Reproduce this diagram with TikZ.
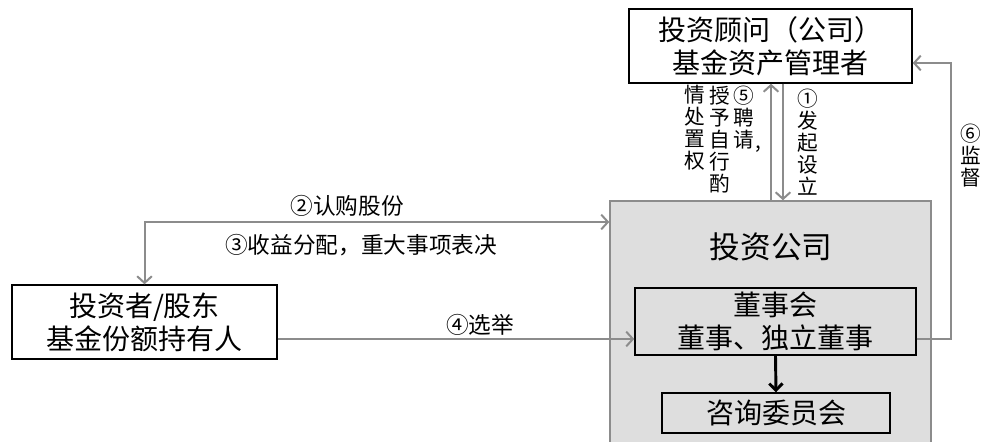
\documentclass[tikz,border=0pt]{standalone}
\usepackage{fontspec}
\setmainfont{Noto Sans CJK SC}
\usetikzlibrary{arrows.meta}
\definecolor{linkgray}{HTML}{8C8C8C}
\definecolor{boxgray}{HTML}{DEDEDE}
\tikzset{barb/.tip={Straight Barb[length=5pt,width=11pt]}}

\begin{document}
\begin{tikzpicture}[x=0.75pt,y=-0.75pt,
	box/.style={draw=black,line width=1.1pt,inner sep=0pt,align=center,font=\fontsize{21}{24.75}\selectfont},
	link/.style={draw=linkgray,line width=1.5pt,-barb},
	tag/.style={inner sep=0pt,font=\fontsize{17}{17}\selectfont},
	vtag/.style={inner sep=0pt,align=center,font=\fontsize{15.5}{16.5}\selectfont}]
	\useasboundingbox (0,0) rectangle (986,442);
	\clip (0,0) rectangle (986,442);
	\fill[white] (0,0) rectangle (986,442);
	
	% the company and what sits in it
	\node[draw=linkgray,fill=boxgray,line width=1.1pt,minimum width=321*0.75pt,minimum height=245*0.75pt] (company) at (770.5,323.5) {};
	\node[font=\fontsize{23}{23}\selectfont,inner sep=0pt] (companyname) at (771,247) {投资公司};
	\node[box,minimum width=281*0.75pt,minimum height=67*0.75pt] (board) at (775.5,321.5) {董事会\\董事、独立董事};
	\node[box,minimum width=228*0.75pt,minimum height=40*0.75pt] (committee) at (776,413) {咨询委员会};
	
	% outside parties
	\node[box,fill=white,minimum width=283*0.75pt,minimum height=74*0.75pt] (adviser) at (770.5,46) {投资顾问（公司）\\基金资产管理者};
	\node[box,fill=white,minimum width=265*0.75pt,minimum height=74*0.75pt] (investor) at (144.5,322) {投资者/股东\\基金份额持有人};
	
	\coordinate (vote) at (0,339);
	\coordinate (buy) at (144,222);
	\coordinate (hire) at (771,0);
	\coordinate (found) at (783,0);
	\coordinate (watch) at (951,63);
	
	\draw[link,barb-barb] (investor.north) |- (company.west |- buy);
	\draw[link] (investor.east |- vote) -- (board.west |- vote);
	\draw[link] (company.north -| hire) -- (adviser.south -| hire);
	\draw[link] (adviser.south -| found) -- (company.north -| found);
	\draw[link] (board.east |- vote) -| (watch) -- (adviser.east |- watch);
	\draw[line width=2.2pt,-{Straight Barb[length=5pt,width=10pt]}] (board.south) -- (committee.north);
	
	% labels
	\node[tag] (buylabel) at (347,206) {②认购股份};
	\node[tag] (paylabel) at (361,245) {③收益分配，重大事项表决};
	\node[tag] (votelabel) at (480,325) {④选举};
	\node[vtag] (hirelabel) at (744,117.5) {⑤\\聘\\请};
	\node[inner sep=0pt,anchor=base west,font=\fontsize{15.5}{15.5}\selectfont] (hirecomma) at (755,149) {,};
	\node[vtag] (grantlabel) at (720,140) {授\\予\\自\\行\\酌};
	\node[vtag] (rightlabel) at (695,128) {情\\处\\置\\权};
	\node[vtag] (foundlabel) at (808,142) {①\\发\\起\\设\\立};
	\node[vtag] (watchlabel) at (971,156) {⑥\\监\\督};
\end{tikzpicture}
\end{document}
